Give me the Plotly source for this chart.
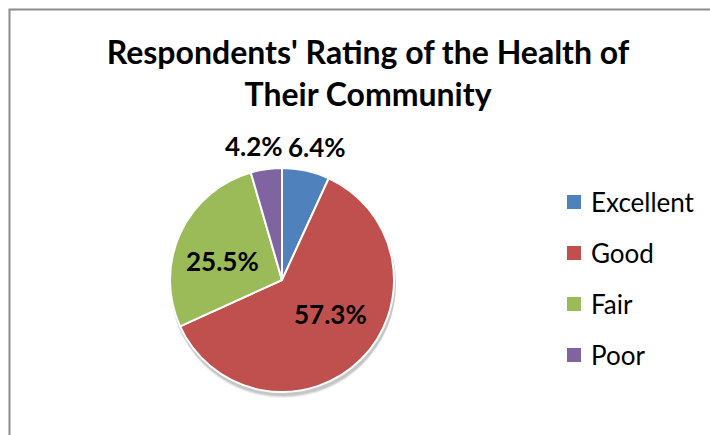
import math
import plotly.graph_objects as go

# Survey results
categories = ["Excellent", "Good", "Fair", "Poor"]
shares = [6.4, 57.3, 25.5, 4.2]
colors = ["#4F81BD", "#C0504D", "#9BBB59", "#8064A2"]

# label placement per slice: distance from centre (in radii) and angular nudge (deg)
label_radius = [1.23, 0.53, 0.555, 1.22]
label_nudge = [2.4, -10.7, -6.4, -3.7]

W, H = 710, 435
FONT = "Lato"

# pie geometry in pixels
cx, cy, r = 282, 280, 112


def dom(dx=0, dy=0, rr=r):
    x0 = (cx + dx - rr) / W
    x1 = (cx + dx + rr) / W
    y0 = (H - (cy + dy) - rr) / H
    y1 = (H - (cy + dy) + rr) / H
    return dict(x=[x0, x1], y=[y0, y1])


fig = go.Figure()

# soft drop shadow under the pie
for off, alpha in [(5, 0.06), (4, 0.08), (3, 0.10)]:
    fig.add_trace(go.Pie(
        values=[1], labels=["shadow"], domain=dom(1, off, r + 1),
        marker=dict(colors=[f"rgba(0,0,0,{alpha})"], line=dict(width=0)),
        textinfo="none", hoverinfo="skip", showlegend=False, sort=False,
    ))

fig.add_trace(go.Pie(
    labels=categories,
    values=shares,
    sort=False,
    direction="clockwise",
    rotation=0,
    domain=dom(),
    marker=dict(colors=colors, line=dict(color="white", width=2)),
    textinfo="none",
    showlegend=False,
))

# percentage labels placed near each slice's bisector
# (the pie normalises by the sum of the shares, so the labels do too)
total = sum(shares)
start = 0.0
for v, k, nudge in zip(shares, label_radius, label_nudge):
    mid = (start + v / 2) / total * 360 + nudge
    start += v
    a = math.radians(mid)
    px = cx + k * r * math.sin(a)
    py = cy - k * r * math.cos(a)
    fig.add_annotation(x=px / W, y=(H - py) / H, xref="paper", yref="paper",
                       text=f"{v}%", showarrow=False,
                       xanchor="center", yanchor="middle",
                       font=dict(family=FONT, size=26, color="black", weight="bold"))

# legend
lx, ly0, step = 567, 202, 51
for i, (c, col) in enumerate(zip(categories, colors)):
    y = ly0 + i * step
    fig.add_shape(type="rect", xref="paper", yref="paper",
                  x0=lx / W, x1=(lx + 14) / W,
                  y0=(H - y - 7) / H, y1=(H - y + 7) / H,
                  fillcolor=col, line=dict(width=0))
    fig.add_annotation(x=(lx + 22) / W, y=(H - y) / H, xref="paper", yref="paper",
                       text=c, showarrow=False, xanchor="left", yanchor="middle",
                       font=dict(family=FONT, size=26, color="black"))

# chart frame
fig.add_shape(type="rect", xref="paper", yref="paper",
              x0=9.5 / W, x1=1.2, y0=-0.2, y1=(H - 9.5) / H,
              line=dict(color="#8C8C8C", width=2), fillcolor="rgba(0,0,0,0)")

fig.update_layout(
    width=W, height=H,
    margin=dict(l=0, r=0, t=0, b=0),
    paper_bgcolor="white",
    plot_bgcolor="white",
    title=dict(
        text="Respondents' Rating of the Health of<br>Their Community",
        x=368 / W, xanchor="center", y=1 - 64 / H, yanchor="top",
        font=dict(family=FONT, size=32, color="black", weight="bold"),
    ),
)

fig.write_html("out.html")
